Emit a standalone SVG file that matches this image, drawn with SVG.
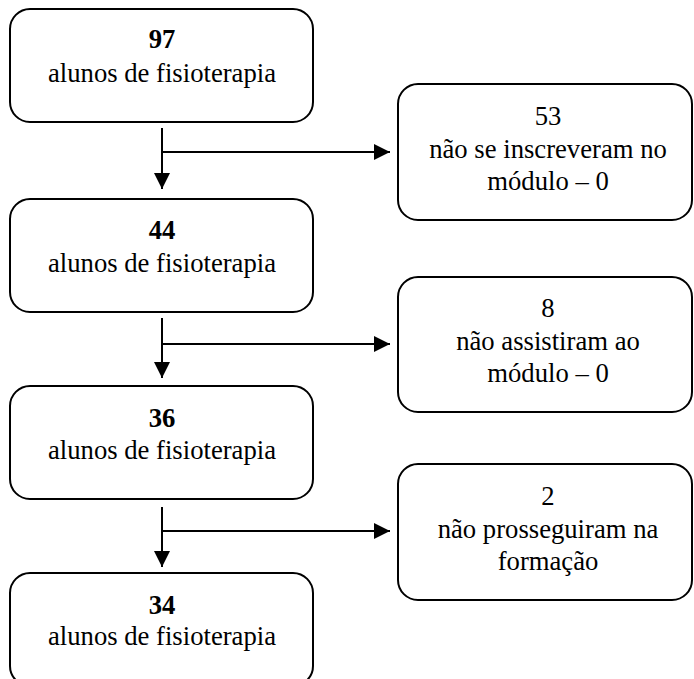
<svg xmlns="http://www.w3.org/2000/svg" width="694" height="679" viewBox="0 0 694 679">
<defs>
<style>
.box{fill:#fff;stroke:#000;stroke-width:2}
.t{font-family:'Liberation Serif','Times New Roman','DejaVu Serif',serif;font-size:26.67px;fill:#000;text-anchor:middle}
.b{font-weight:bold}
.ln{stroke:#000;stroke-width:2;fill:none}
</style>
<marker id="ah" viewBox="0 0 16 16" refX="16" refY="8" markerWidth="16" markerHeight="16" markerUnits="userSpaceOnUse" orient="auto">
<path d="M0,0 L16,8 L0,16 Z" fill="#000"/>
</marker>
</defs>
<rect width="694" height="679" fill="#fff"/>
<g id="connectors">
<line class="ln" x1="162" y1="128" x2="162" y2="189" marker-end="url(#ah)"/>
<line class="ln" x1="162" y1="152" x2="390" y2="152" marker-end="url(#ah)"/>
<line class="ln" x1="162" y1="318" x2="162" y2="378" marker-end="url(#ah)"/>
<line class="ln" x1="162" y1="344" x2="390" y2="344" marker-end="url(#ah)"/>
<line class="ln" x1="162" y1="507" x2="162" y2="567" marker-end="url(#ah)"/>
<line class="ln" x1="162" y1="531" x2="390" y2="531" marker-end="url(#ah)"/>
</g>
<g font-family="Liberation Serif, Times New Roman, serif">
<g id="n97">
<rect class="box" x="10" y="9" width="303" height="113" rx="20"/>
<text class="t b" x="162" y="48">97</text>
<text class="t" x="162" y="82">alunos de fisioterapia</text>
</g>
<g id="n44">
<rect class="box" x="10" y="199" width="303" height="113" rx="20"/>
<text class="t b" x="162" y="239">44</text>
<text class="t" x="162" y="272">alunos de fisioterapia</text>
</g>
<g id="n36">
<rect class="box" x="10" y="386" width="303" height="113" rx="20"/>
<text class="t b" x="162" y="427">36</text>
<text class="t" x="162" y="459">alunos de fisioterapia</text>
</g>
<g id="n34">
<rect class="box" x="10" y="573" width="303" height="113" rx="20"/>
<text class="t b" x="162" y="614">34</text>
<text class="t" x="162" y="645">alunos de fisioterapia</text>
</g>
<g id="n53">
<rect class="box" x="398" y="84" width="294" height="136" rx="20"/>
<text class="t" x="548" y="125">53</text>
<text class="t" x="548" y="158">não se inscreveram no</text>
<text class="t" x="548" y="190">módulo – 0</text>
</g>
<g id="n8">
<rect class="box" x="398" y="277" width="294" height="135" rx="20"/>
<text class="t" x="548" y="317">8</text>
<text class="t" x="548" y="350">não assistiram ao</text>
<text class="t" x="548" y="382">módulo – 0</text>
</g>
<g id="n2">
<rect class="box" x="398" y="464" width="294" height="136" rx="20"/>
<text class="t" x="548" y="505">2</text>
<text class="t" x="548" y="538">não prosseguiram na</text>
<text class="t" x="548" y="570">formação</text>
</g>
</g>
</svg>
